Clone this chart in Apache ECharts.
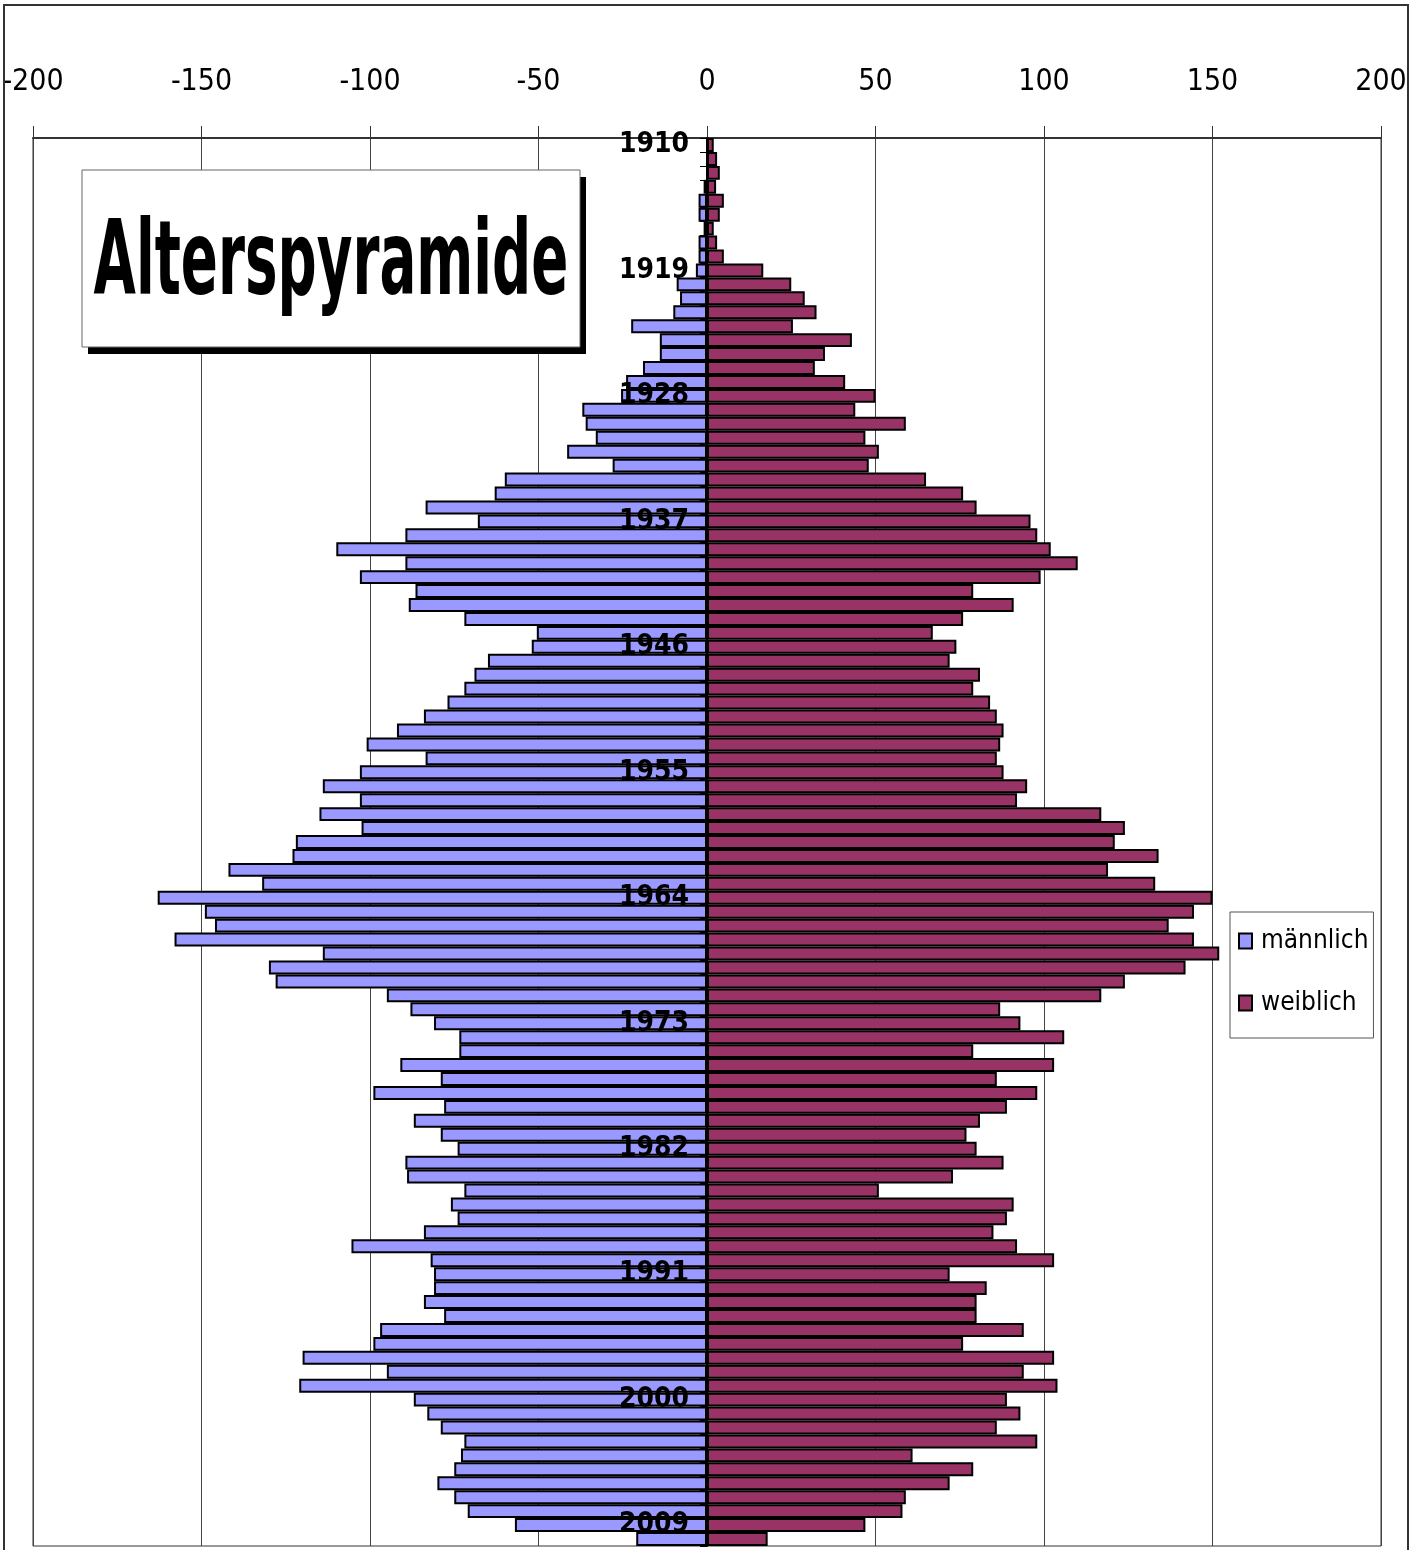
<!DOCTYPE html>
<html>
<head>
<meta charset="utf-8">
<title>Alterspyramide</title>
<script src="https://cdn.jsdelivr.net/npm/echarts/dist/echarts.min.js"></script>
<style>
  html, body { margin: 0; padding: 0; background: #fff; }
  #chart { width: 1414px; height: 1550px; }
</style>
</head>
<body>
<div id="chart"></div>
<script>
// Jahrgänge 1910 .. 2010 (oben -> unten)
var firstYear = 1910, lastYear = 2010;
var years = [];
for (var y = firstYear; y <= lastYear; y++) years.push(String(y));

// männlich (negativ, links) - je Zeile 10 Jahrgänge
var maleValues = [
  0, 0, 0, -1, -2.5, -2.5, -1, -2.5, -2.5, -3.3,              // 1910
  -9, -8, -10, -22.5, -14, -14, -19, -24, -25.5, -37,         // 1920
  -36, -33, -41.5, -28, -60, -63, -83.5, -68, -89.5, -110,    // 1930
  -89.5, -103, -86.5, -88.5, -72, -50.5, -52, -65, -69, -72,  // 1940
  -77, -84, -92, -101, -83.5, -103, -114, -103, -115, -102.5, // 1950
  -122, -123, -142, -132, -163, -149, -146, -158, -114, -130, // 1960
  -128, -95, -88, -81, -73.5, -73.5, -91, -79, -99, -78,      // 1970
  -87, -79, -74, -89.5, -89, -72, -76, -74, -84, -105.5,      // 1980
  -82, -81, -81, -84, -78, -97, -99, -120, -95, -121,         // 1990
  -87, -83, -79, -72, -73, -75, -80, -75, -71, -57,           // 2000
  -21                                                         // 2010
];

// weiblich (positiv, rechts)
var femaleValues = [
  2, 3, 3.8, 2.7, 5, 3.8, 2, 3, 5, 16.7,              // 1910
  25, 29, 32.5, 25.5, 43, 35, 32, 41, 50, 44,         // 1920
  59, 47, 51, 48, 65, 76, 80, 96, 98, 102,            // 1930
  110, 99, 79, 91, 76, 67, 74, 72, 81, 79,            // 1940
  84, 86, 88, 87, 86, 88, 95, 92, 117, 124,           // 1950
  121, 134, 119, 133, 150, 144.5, 137, 144.5, 152, 142, // 1960
  124, 117, 87, 93, 106, 79, 103, 86, 98, 89,         // 1970
  81, 77, 80, 88, 73, 51, 91, 89, 85, 92,             // 1980
  103, 72, 83, 80, 80, 94, 76, 103, 94, 104,          // 1990
  89, 93, 86, 98, 61, 79, 72, 59, 58, 47,             // 2000
  18                                                  // 2010
];

var seriesNames = ['männlich', 'weiblich'];
var axisMin = -200, axisMax = 200, axisStep = 50;
var titleText = 'Alterspyramide';

var NARROW = "'DejaVu Sans Condensed', 'Liberation Sans Narrow', 'Liberation Sans', sans-serif";

var gridLeft = 33, gridRight = 33;
var plotWidth = 1414 - gridLeft - gridRight;
// Kategorieachse sitzt bei x = 0 (Mitte des Wertebereichs)
var zeroOffset = -plotWidth * (0 - axisMin) / (axisMax - axisMin);

var chart = echarts.init(document.getElementById('chart'), null, { renderer: 'canvas' });

chart.setOption({
  animation: false,
  backgroundColor: '#fff',
  grid: {
    left: gridLeft, right: gridRight, top: 138, bottom: 4,
    containLabel: false, outerBoundsMode: 'none',
    show: true, borderColor: '#333', borderWidth: 1, backgroundColor: 'transparent'
  },
  legend: {
    data: seriesNames,
    orient: 'vertical',
    left: 1230, top: 912,
    icon: 'rect',
    itemWidth: 13, itemHeight: 15, itemGap: 36,
    backgroundColor: '#fff',
    borderColor: '#555', borderWidth: 1,
    padding: [16, 5, 22, 8],
    itemStyle: { borderColor: '#000', borderWidth: 2 },
    textStyle: { fontFamily: NARROW, fontSize: 26, color: '#000', padding: [0, 0, 0, 4] }
  },
  xAxis: {
    type: 'value',
    position: 'top',
    min: axisMin, max: axisMax, interval: axisStep,
    axisLine: { show: true, onZero: false, lineStyle: { color: '#333', width: 2 } },
    axisTick: { show: true, length: 12, lineStyle: { color: '#333', width: 1 } },
    splitLine: { show: true, lineStyle: { color: '#444', width: 1 } },
    axisLabel: { fontFamily: NARROW, fontSize: 30, color: '#000', margin: 41 }
  },
  yAxis: {
    type: 'category',
    data: years,
    inverse: true,
    position: 'left',
    offset: zeroOffset,
    z: 5,
    axisLine: { show: true, onZero: false, lineStyle: { color: '#000', width: 2 } },
    axisTick: { show: true, length: 7, interval: 0, lineStyle: { color: '#000', width: 1 } },
    axisLabel: {
      interval: 8, margin: 18,
      fontFamily: NARROW, fontWeight: 'bold', fontSize: 28, color: '#000'
    }
  },
  series: [
    {
      name: seriesNames[0],
      type: 'bar',
      data: maleValues,
      barGap: '-100%',
      barCategoryGap: 0,
      itemStyle: { color: '#9999FF', borderColor: '#000', borderWidth: 2 }
    },
    {
      name: seriesNames[1],
      type: 'bar',
      data: femaleValues,
      barGap: '-100%',
      barCategoryGap: 0,
      itemStyle: { color: '#993366', borderColor: '#000', borderWidth: 2 }
    }
  ],
  graphic: [
    // Rahmen um das ganze Diagramm
    {
      type: 'rect', z: 100, silent: true,
      shape: { x: 4, y: 5, width: 1404, height: 1600 },
      style: { fill: 'none', stroke: '#333', lineWidth: 2 }
    },
    // Titelkasten mit Schatten
    {
      type: 'rect', z: 100,
      shape: { x: 88, y: 177, width: 498, height: 177 },
      style: { fill: '#000' }
    },
    {
      type: 'rect', z: 101,
      shape: { x: 82, y: 170, width: 498, height: 177 },
      style: { fill: '#fff', stroke: '#666', lineWidth: 1 }
    },
    {
      type: 'text', z: 102,
      x: 331, y: 267, scaleX: 0.77, scaleY: 1.3,
      style: {
        text: titleText,
        font: 'bold 79px ' + NARROW,
        fill: '#000',
        textAlign: 'center',
        textVerticalAlign: 'middle'
      }
    }
  ]
});
</script>
</body>
</html>
